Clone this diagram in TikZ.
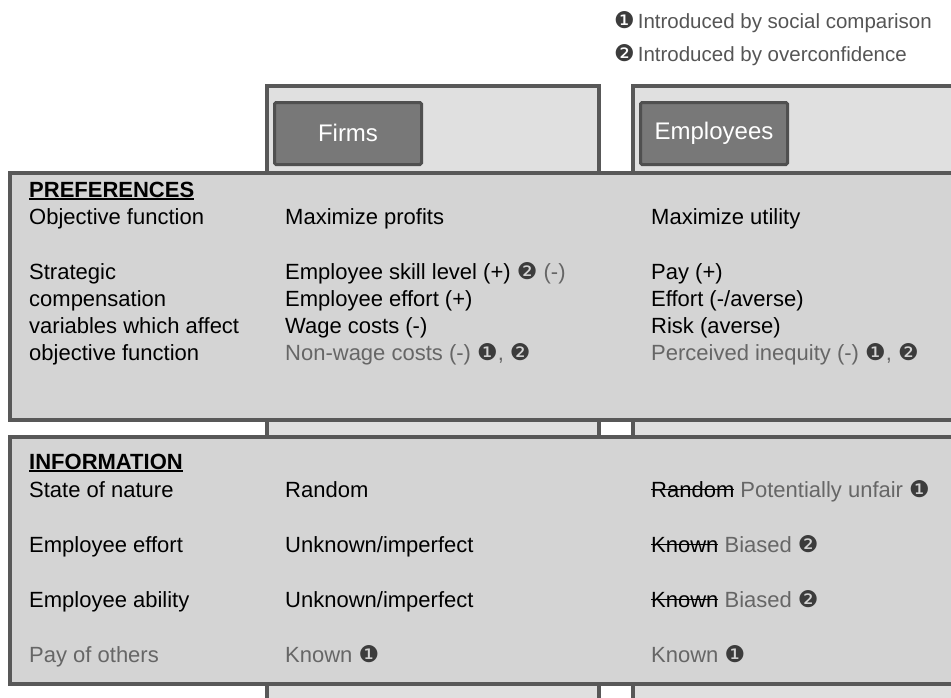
\documentclass[tikz,border=0pt]{standalone}
\usepackage{fontspec}
\setmainfont{Liberation Sans}
\newfontfamily\dingfont{DejaVu Sans}
\definecolor{bd}{HTML}{585858}
\definecolor{colfill}{HTML}{E0E0E0}
\definecolor{rowfill}{HTML}{D4D4D4}
\definecolor{hfill}{HTML}{787878}
\definecolor{hbd}{HTML}{505050}
\definecolor{graytxt}{HTML}{666666}
\definecolor{legtxt}{HTML}{555555}
\definecolor{mk}{HTML}{3C3C3C}
\newsavebox{\mystbox}
\newcommand{\mystrike}[1]{\sbox{\mystbox}{#1}\rlap{\rule[0.3em]{\wd\mystbox}{1.6pt}}\usebox{\mystbox}}
\newcommand{\myuline}[1]{\sbox{\mystbox}{#1}\rlap{\rule[-2.5pt]{\wd\mystbox}{2pt}}\usebox{\mystbox}}
\newcommand{\mkone}{{\color{mk}\dingfont\fontsize{23}{23}\selectfont ❶}}
\newcommand{\mktwo}{{\color{mk}\dingfont\fontsize{23}{23}\selectfont ❷}}
\newcommand{\gtx}[1]{{\color{graytxt}#1}}
\tikzset{
  colbox/.style={draw=bd, line width=3.5pt, fill=colfill, anchor=north west, inner sep=0pt},
  rowbox/.style={draw=bd, line width=3.5pt, fill=rowfill, anchor=north west, inner sep=0pt},
  hdr/.style={draw=hbd, line width=3pt, fill=hfill, rounded corners=1.5pt, text=white,
    font=\fontsize{24}{24}\selectfont, minimum width=147pt, minimum height=62pt,
    anchor=north west, inner sep=0pt},
  txt/.style={anchor=base west, inner sep=0pt, font=\fontsize{22}{26}\selectfont},
  legend/.style={anchor=base west, inner sep=0pt, font=\fontsize{20.5}{24}\selectfont, text=legtxt},
}
\begin{document}
\begin{tikzpicture}[x=1pt,y=-1pt]
\useasboundingbox (0,0) rectangle (951,697);
% column boxes
\node[colbox, minimum width=332pt, minimum height=660pt] (firmscol) at (265,84) {};
\node[colbox, minimum width=360pt, minimum height=660pt] (empcol) at (631,84) {};
% headers
\node[hdr] (firmshdr) at (273,101) {\raisebox{1.5pt}{Firms}};
\node[hdr] (emphdr) at (639,101) {Employees};
% row boxes
\node[rowbox, minimum width=990pt, minimum height=247pt] (prefbox) at (8,171) {};
\node[rowbox, minimum width=990pt, minimum height=247pt] (infobox) at (8,435) {};
% legend
\node[legend] (leg1) at (614,28) {\mkone\hspace{3pt}Introduced by social comparison};
\node[legend] (leg2) at (614,61) {\mktwo\hspace{3pt}Introduced by overconfidence};
% preferences
\node[txt] (preft) at (29,197) {\textbf{\myuline{PREFERENCES}}};
\node[txt] (p1a) at (29,224) {Objective function};
\node[txt] (p1b) at (285,224) {Maximize profits};
\node[txt] (p1c) at (651,224) {Maximize utility};
\node[txt] (p2a) at (29,279) {Strategic};
\node[txt] (p3a) at (29,306) {compensation};
\node[txt] (p4a) at (29,333) {variables which affect};
\node[txt] (p5a) at (29,360) {objective function};
\node[txt] (p2b) at (285,279) {Employee skill level (+) \mktwo\ \gtx{(-)}};
\node[txt] (p3b) at (285,306) {Employee effort (+)};
\node[txt] (p4b) at (285,333) {Wage costs (-)};
\node[txt] (p5b) at (285,360) {\gtx{Non-wage costs (-)} \mkone\gtx{,} \mktwo};
\node[txt] (p2c) at (651,279) {Pay (+)};
\node[txt] (p3c) at (651,306) {Effort (-/averse)};
\node[txt] (p4c) at (651,333) {Risk (averse)};
\node[txt] (p5c) at (651,360) {\gtx{Perceived inequity (-)} \mkone\gtx{,} \mktwo};
% information
\node[txt] (infot) at (29,469) {\textbf{\myuline{INFORMATION}}};
\node[txt] (i1a) at (29,497) {State of nature};
\node[txt] (i1b) at (285,497) {Random};
\node[txt] (i1c) at (651,497) {\mystrike{Random} \gtx{Potentially unfair} \mkone};
\node[txt] (i2a) at (29,552) {Employee effort};
\node[txt] (i2b) at (285,552) {Unknown/imperfect};
\node[txt] (i2c) at (651,552) {\mystrike{Known} \gtx{Biased} \mktwo};
\node[txt] (i3a) at (29,607) {Employee ability};
\node[txt] (i3b) at (285,607) {Unknown/imperfect};
\node[txt] (i3c) at (651,607) {\mystrike{Known} \gtx{Biased} \mktwo};
\node[txt] (i4a) at (29,662) {\gtx{Pay of others}};
\node[txt] (i4b) at (285,662) {\gtx{Known} \mkone};
\node[txt] (i4c) at (651,662) {\gtx{Known} \mkone};
\end{tikzpicture}
\end{document}
